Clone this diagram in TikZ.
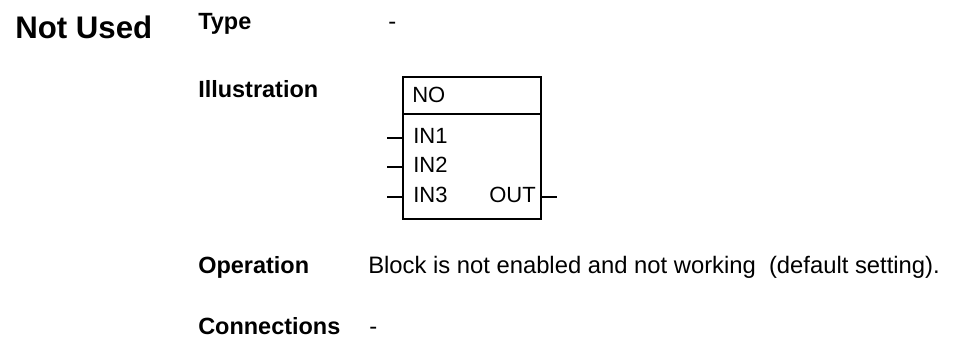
\documentclass[tikz,border=0pt]{standalone}
\usepackage{fontspec}
\setmainfont{Liberation Sans}
\usetikzlibrary{positioning}

\begin{document}
\begin{tikzpicture}[
  x=0.75pt,
  y=-0.75pt,
  title/.style={anchor=base west,inner sep=0pt,font=\fontsize{23.4}{26}\bfseries},
  field/.style={anchor=base west,inner sep=0pt,font=\fontsize{17.6}{20}\bfseries},
  entry/.style={anchor=base west,inner sep=0pt,font=\fontsize{17.85}{20}\selectfont},
  pin/.style={anchor=base west,inner sep=0pt,font=\fontsize{16.5}{19}\selectfont},
  frame/.style={line width=1.5pt},
  wire/.style={line width=1.5pt}
]
\useasboundingbox (0,0) rectangle (967,338);

% headings of the entry
\node[title] (name) at (15,39) {Not Used};
\node[field] (type) at (198,30) {Type};
\node[field] (illus) at (198,98) {Illustration};
\node[field] (oper) at (198,273) {Operation};
\node[field] (conn) at (198,334) {Connections};

\node[entry] (typeval) at (388,30) {-};
\node[entry] (operval) at (368,273) {Block is not enabled and not working\ \ (default setting).};
\node[entry] (connval) at (369,334) {-};

% function block
\coordinate (blocktl) at (403,77);
\coordinate (blockbr) at (541,219);
\draw[frame] (blocktl) rectangle (blockbr);
\coordinate (divl) at (403,114);
\coordinate (divr) at (541,114);
\draw[frame] (divl) -- (divr);
\node[pin] (blocktype) at (412,103) {NO};

\node[pin] (in1) at (413,143.5) {IN1};
\node[pin] (in2) at (413,173) {IN2};
\node[pin] (in3) at (413,203) {IN3};
\node[pin,anchor=base east] (out) at (536,203) {OUT};

% connection stubs
\foreach \y/\n in {137.7/1,167.3/2,196.7/3}{
  \coordinate (stub\n) at (387,\y);
  \coordinate (edge\n) at (403,\y);
  \draw[wire] (stub\n) -- (edge\n);
}
\coordinate (outedge) at (541,196.7);
\coordinate (outstub) at (557,196.7);
\draw[wire] (outedge) -- (outstub);
\end{tikzpicture}
\end{document}
